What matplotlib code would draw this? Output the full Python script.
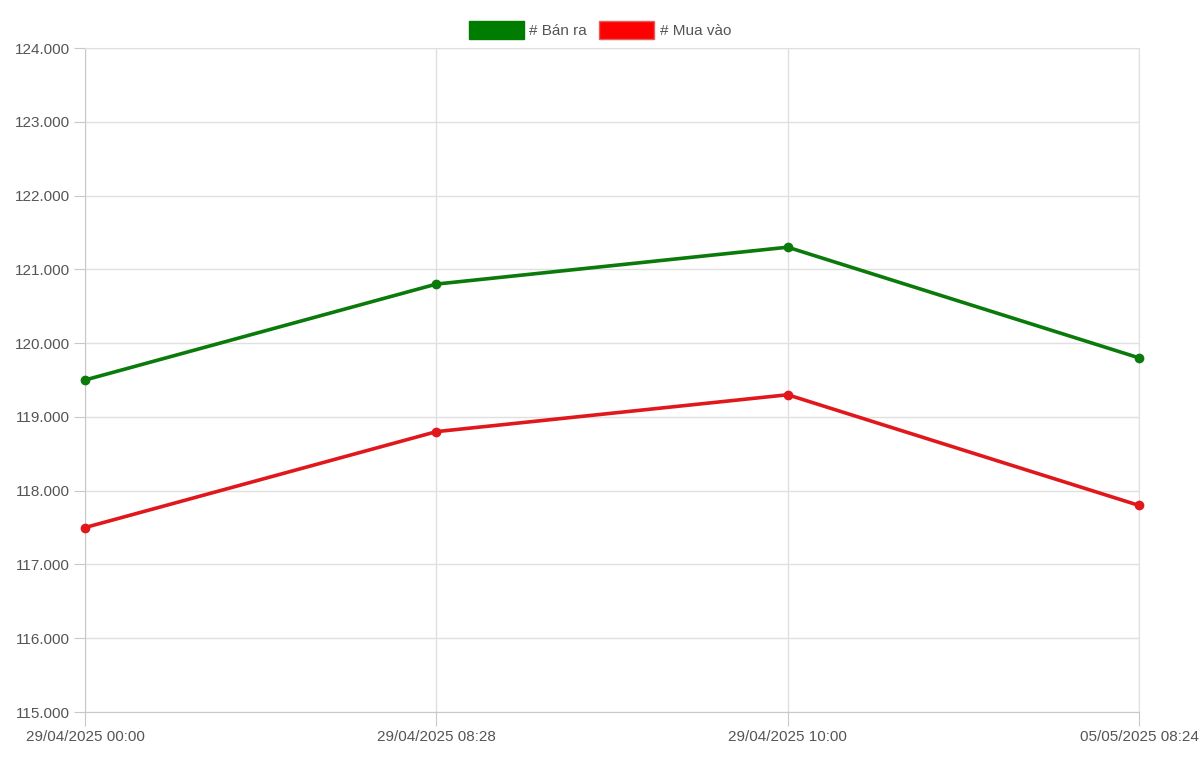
import matplotlib.pyplot as plt
from matplotlib.patches import Patch

plt.rcParams['font.family'] = ['Liberation Sans', 'DejaVu Sans']

# du lieu
nhan = ["29/04/2025 00:00", "29/04/2025 08:28", "29/04/2025 10:00", "05/05/2025 08:24"]
ban_ra = [119.5, 120.8, 121.3, 119.8]
mua_vao = [117.5, 118.8, 119.3, 117.8]

fig = plt.figure(figsize=(12, 7.59), dpi=100)
ax = fig.add_axes([85/1200, 1 - 712/759, (1139-85)/1200, (712-48)/759])

x = range(len(nhan))
ax.plot(x, ban_ra, color="#0a7a0a", lw=2.6, marker="o", ms=6, zorder=3, clip_on=False)
ax.plot(x, mua_vao, color="#e0181c", lw=2.6, marker="o", ms=6, zorder=3, clip_on=False)

ax.set_xlim(0, len(nhan) - 1)
ax.set_ylim(115, 124)
ax.set_yticks(range(115, 125))
ax.set_yticklabels(["%.3f" % v for v in range(115, 125)])
ax.set_xticks(list(x))
ax.set_xticklabels(nhan)

ax.grid(color="#e0e0e0", lw=1)
for s in ["top", "right"]:
    ax.spines[s].set_color("#e0e0e0")
for s in ["left", "bottom"]:
    ax.spines[s].set_color("#c8c8c8")
ax.tick_params(axis="y", colors="#c8c8c8", labelcolor="#555555", labelsize=11, length=8, pad=3)
ax.tick_params(axis="x", colors="#c8c8c8", labelcolor="#555555", labelsize=11, length=10, pad=3)

handles = [Patch(facecolor="#007d00", edgecolor="#007d00", label="# Bán ra"),
           Patch(facecolor="#ff0000", edgecolor="#e06060", label="# Mua vào")]
fig.legend(handles=handles, loc="upper center", bbox_to_anchor=(0.5, 1 - 7/759), ncol=2,
           frameon=False, fontsize=11, labelcolor="#555555", handlelength=3.6,
           handleheight=1.5, handletextpad=0.35, columnspacing=0.8)

fig.savefig("out.png", dpi=100)
